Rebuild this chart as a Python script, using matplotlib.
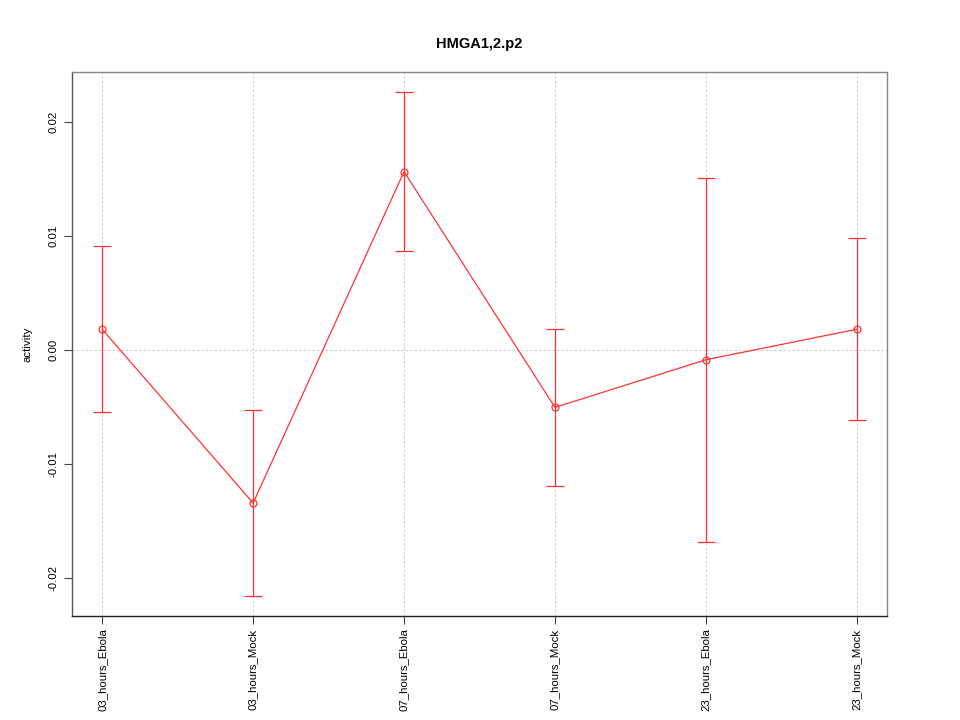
import matplotlib
matplotlib.use("Agg")
import matplotlib.pyplot as plt
import numpy as np

plt.rcParams['font.family'] = ['Liberation Sans', 'DejaVu Sans']

categories = ["03_hours_Ebola", "03_hours_Mock", "07_hours_Ebola",
              "07_hours_Mock", "23_hours_Ebola", "23_hours_Mock"]
values = [0.00182, -0.01342, 0.01565, -0.00503, -0.00085, 0.00183]
upper = [0.00910, -0.00526, 0.02265, 0.00186, 0.01505, 0.00982]
lower = [-0.00544, -0.02158, 0.00867, -0.01191, -0.01685, -0.00614]
yticks = [-0.02, -0.01, 0.00, 0.01, 0.02]
ytick_labels = ["-0.02", "-0.01", "0.00", "0.01", "0.02"]

x = np.arange(1, len(categories) + 1)
vals = np.array(values)
yerr = np.array([vals - np.array(lower), np.array(upper) - vals])

fig = plt.figure(figsize=(9.6, 7.2), dpi=100)
ax = fig.add_axes([0.075, 0.1444, 0.849, 0.7556])

for xi in x:
    ax.axvline(xi, color='#cccccc', lw=0.8, ls=(0, (2, 2)), zorder=0)
ax.axhline(0, color='#cccccc', lw=0.8, ls=(0, (2, 2)), zorder=0)

ax.errorbar(x, vals, yerr=yerr, fmt='none', ecolor='#ff3333', elinewidth=0.9,
            capsize=6.5, capthick=0.9, zorder=2)
ax.plot(x, vals, color='#ff3333', lw=0.9, zorder=3)
ax.plot(x, vals, ls='none', marker='o', ms=5, mfc='none', mec='#ff3333',
        mew=0.9, zorder=4)

ax.set_xlim(0.8, 6.2)
ax.set_ylim(-0.02333, 0.02439)
ax.set_xticks(x)
ax.set_xticklabels(categories, rotation=90, fontsize=8.2)
ax.set_yticks(yticks)
ax.set_yticklabels(ytick_labels, rotation=90, va='center', fontsize=8.2)
ax.tick_params(axis='both', direction='out', length=6, width=0.8, color='#444444')
ax.tick_params(axis='x', pad=3)
ax.tick_params(axis='y', pad=4)
ax.set_ylabel("activity", fontsize=8.2, labelpad=11)
ax.set_title("HMGA1,2.p2", fontsize=10.5, fontweight='bold', pad=17)

ax.spines['left'].set_color('#555555')
ax.spines['bottom'].set_color('#222222')
ax.spines['top'].set_color('#888888')
ax.spines['right'].set_color('#888888')
for s in ax.spines.values():
    s.set_linewidth(1.0)

fig.savefig("out.png", dpi=100)
